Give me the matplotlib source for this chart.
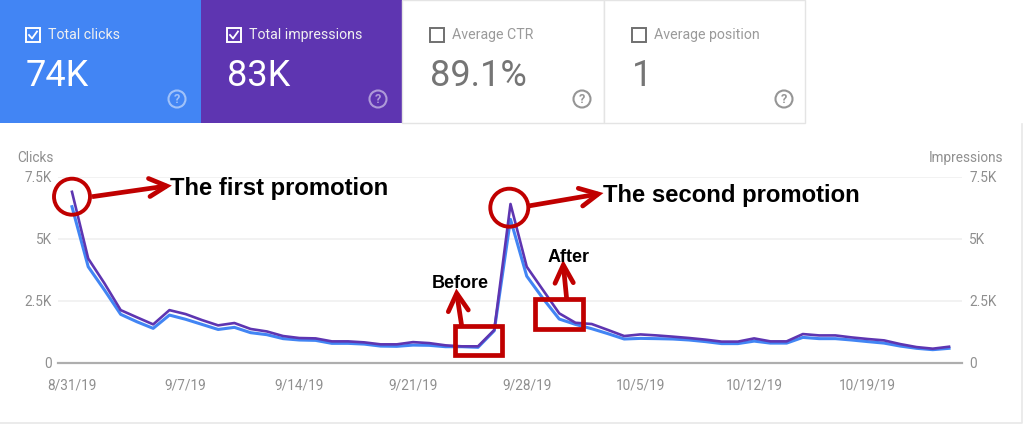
import matplotlib
matplotlib.use('Agg')
import matplotlib.pyplot as plt
import matplotlib.dates as mdates
from matplotlib.patches import Rectangle, Circle
import datetime as dt

plt.rcParams['font.family'] = ['Roboto', 'DejaVu Sans']

# daily values
start = dt.date(2019, 8, 31)
clicks = [6290, 3870, 2930, 1950, 1650, 1385, 1920, 1750, 1545, 1340, 1425, 1210, 1130, 970,
          915, 900, 780, 780, 750, 670, 660, 710, 700, 645, 645, 620, 1290, 5780, 3490, 2590,
          1760, 1545, 1370, 1170, 955, 980, 970, 955, 915, 850, 770, 770, 870, 790, 790, 1020,
          970, 970, 915, 850, 790, 670, 580, 525, 580]
impressions = [6890, 4200, 3200, 2120, 1830, 1545, 2120, 1960, 1720, 1505, 1600, 1360, 1260, 1075,
               995, 980, 860, 860, 820, 740, 740, 830, 790, 700, 660, 660, 1320, 6400, 3870, 2930,
               1990, 1610, 1560, 1320, 1075, 1140, 1100, 1050, 995, 930, 850, 850, 980, 860, 860, 1155,
               1100, 1100, 1020, 955, 900, 750, 630, 565, 645]
dates = [start + dt.timedelta(days=i) for i in range(len(clicks))]

tick_dates = [dt.date(2019, 8, 31), dt.date(2019, 9, 7), dt.date(2019, 9, 14), dt.date(2019, 9, 21),
              dt.date(2019, 9, 28), dt.date(2019, 10, 5), dt.date(2019, 10, 12), dt.date(2019, 10, 19)]
tick_labels = ['8/31/19', '9/7/19', '9/14/19', '9/21/19', '9/28/19', '10/5/19', '10/12/19', '10/19/19']
y_ticks = [0, 2500, 5000, 7500]
y_labels = ['0', '2.5K', '5K', '7.5K']

card_titles = ['Total clicks', 'Total impressions', 'Average CTR', 'Average position']
card_values = ['74K', '83K', '89.1%', '1']

BLUE = '#4285f4'
PURPLE = '#5e35b1'
GREY = '#8f8f8f'
RED = '#c00000'
W, H = 1024, 424


def ax_rect(left, top, right, bottom):
    return [left / W, 1 - bottom / H, (right - left) / W, (bottom - top) / H]


fig = plt.figure(figsize=(W / 100, H / 100), dpi=100, facecolor='white')

ax = fig.add_axes(ax_rect(58, 176.7, 961.7, 362.7))
ax2 = ax.twinx()
x0 = mdates.date2num(start)
ax.set_xlim(x0 - 0.86, x0 + 54.78)
for a in (ax, ax2):
    a.set_ylim(0, 7500)
    a.set_yticks(y_ticks)
    a.set_yticklabels(y_labels)
    a.tick_params(length=0, labelsize=9.8, labelcolor=GREY)
    for s in a.spines.values():
        s.set_visible(False)
ax.tick_params(axis='y', pad=4.3)
ax2.tick_params(axis='y', pad=5.5)
ax.grid(axis='y', color='#f0f0f0', lw=1.2)
ax.set_axisbelow(True)
ax.set_xticks(mdates.date2num(tick_dates))
ax.set_xticklabels(tick_labels)
ax.tick_params(axis='x', pad=11.5)
ax.spines['bottom'].set_visible(True)
ax.spines['bottom'].set_color('#aeaeae')
ax.spines['bottom'].set_linewidth(1.6)

ax.plot(dates, clicks, color=BLUE, lw=2.2)
ax2.plot(dates, impressions, color=PURPLE, lw=1.9)

# overlay in pixel coords for the cards and the hand drawn notes
ov = fig.add_axes([0, 0, 1, 1], zorder=5)
ov.set_xlim(0, W)
ov.set_ylim(H, 0)
ov.axis('off')

# outer card border
ov.plot([0, 1021.5, 1021.5], [422.5, 422.5, 124], color='#e8e8e8', lw=1.2)

card_x = [0, 201, 402, 604]
card_w = [201, 201, 202, 201]
card_bg = [BLUE, PURPLE, 'white', 'white']
for i in range(4):
    x = card_x[i]
    selected = i < 2
    ov.add_patch(Rectangle((x, 0), card_w[i], 122.5, fc=card_bg[i],
                           ec='none' if selected else '#e4e4e4', lw=1))
    fg = 'white' if selected else '#707070'
    tx = x + 26 if i < 2 else x + 28
    ov.add_patch(Rectangle((tx, 28), 14, 14, fc='none', ec=fg, lw=1.4))
    if selected:
        ov.plot([tx + 3, tx + 6, tx + 11], [35, 38.5, 31.5], color=fg, lw=1.3)
    ov.text(tx + 22, 35, card_titles[i], color='#f0f0f0' if selected else '#9a9a9a',
            fontsize=10.2, va='center', ha='left')
    ov.text(tx, 75.5, card_values[i], color=fg if selected else '#757575',
            fontsize=26, va='center', ha='left')
    qx = x + 177 if i < 2 else x + 180
    qc = '#ffffff' if selected else '#8a8a8a'
    ov.add_patch(Circle((qx, 99), 8.5, fc='none', ec=qc, lw=1.5, alpha=0.5 if selected else 0.9))
    ov.text(qx, 99.5, '?', color=qc, fontsize=9, fontweight='bold', ha='center', va='center',
            alpha=0.5 if selected else 0.9)

ov.text(17, 158, 'Clicks', color=GREY, fontsize=9.8, va='center', ha='left')
ov.text(1003, 158, 'Impressions', color=GREY, fontsize=9.8, va='center', ha='right')

# red notes
for cx, cy, r in [(72, 196.7, 18), (509.3, 207.7, 19)]:
    ov.add_patch(Circle((cx, cy), r, fc='none', ec=RED, lw=2.8))
for l, t, r, b in [(455, 326, 502.3, 354.7), (535.3, 299.3, 583.3, 329)]:
    ov.add_patch(Rectangle((l, t), r - l, b - t, fc='none', ec=RED, lw=3.4))

arrows = [((92, 196.7), (166.7, 186), (148.5, 178.5), (150, 196.5)),
          ((528.3, 206), (598.3, 194), (578.3, 188.3), (582.7, 206)),
          ((461.7, 326), (456.7, 293.3), (448.3, 311.7), (468.3, 310)),
          ((566.7, 299.3), (563.3, 265), (555, 283.3), (573.3, 282.7))]
for p0, tip, h1, h2 in arrows:
    ov.plot([p0[0], tip[0]], [p0[1], tip[1]], color=RED, lw=3.4, solid_capstyle='butt')
    ov.plot([h1[0], tip[0], h2[0]], [h1[1], tip[1], h2[1]], color=RED, lw=3.4,
            solid_capstyle='round', solid_joinstyle='miter')

bold = dict(family='Liberation Sans', fontweight='bold', color='black', va='center')
ov.text(170, 188.5, 'The first promotion', fontsize=17.2, ha='left', **bold)
ov.text(603, 195.5, 'The second promotion', fontsize=17.2, ha='left', **bold)
ov.text(460, 283.5, 'Before', fontsize=13, ha='center', **bold)
ov.text(568.7, 257, 'After', fontsize=13, ha='center', **bold)

fig.savefig('out.png', dpi=100)
